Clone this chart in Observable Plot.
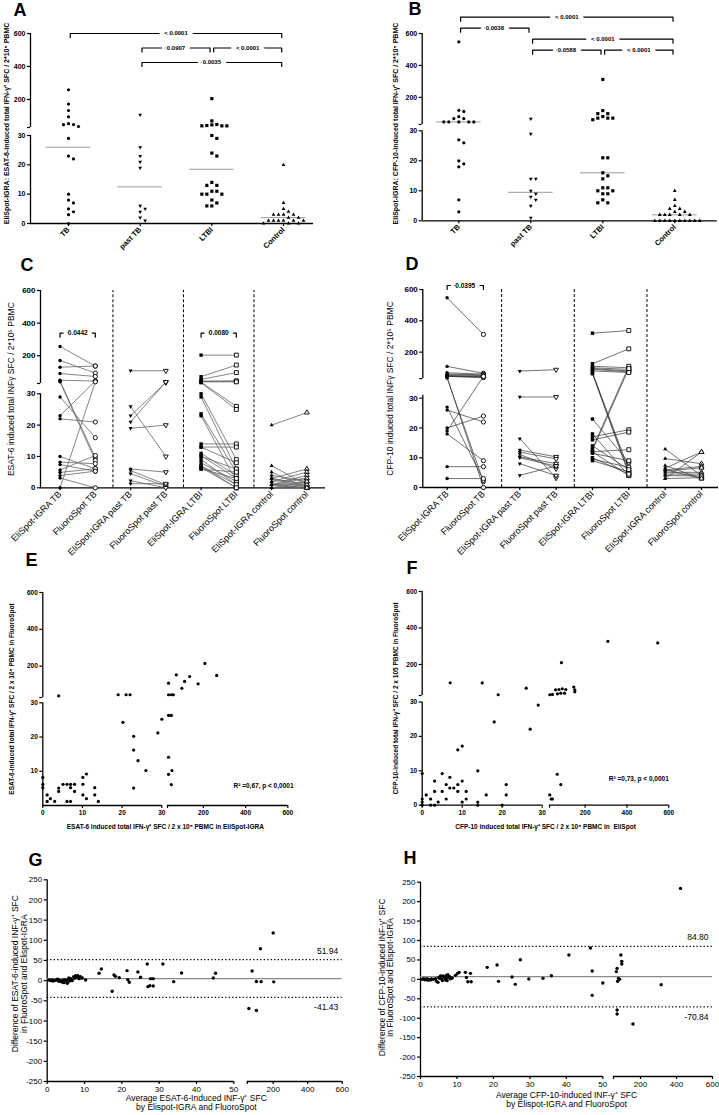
<!DOCTYPE html>
<html>
<head>
<meta charset="utf-8">
<script src="https://cdn.jsdelivr.net/npm/d3@7"></script>
<script src="https://cdn.jsdelivr.net/npm/@observablehq/plot@0.6"></script>
<style>
body { margin: 0; background: #fff; }
#fig { position: relative; width: 719px; height: 1115px; overflow: hidden; background: #fff; }
#fig > div { position: absolute; }
#fig svg { overflow: visible; max-width: none !important; }
#fig g[aria-label$="axis tick"] { stroke-width: 1.2px; }
.ab g[aria-label="x-axis tick label"] { font-size: 7.5px; }
.cd g[aria-label="x-axis tick label"] { font-size: 9px; font-weight: normal; }
</style>
</head>
<body>
<div id="fig"></div>
<script>
// ---------- data ----------
const groupNames = ["TB", "past TB", "LTBI", "Control"];
const pairLabels = ["EliSpot-IGRA TB", "FluoroSpot TB", "EliSpot-IGRA past TB", "FluoroSpot past TB",
  "EliSpot-IGRA LTBI", "FluoroSpot LTBI", "EliSpot-IGRA control", "FluoroSpot control"];

// A: EliSpot-IGRA ESAT-6
const aTB = [259, 172, 133, 95, 53, 48, 47, 36, 29, 23, 22, 10, 8, 7, 5, 4, 3, 0];
const aPastTB = [107, 26, 23, 21, 19, 6, 5, 4, 2, 1];
const aLTBI = [205, 70, 48, 46, 42, 40, 40, 40, 30, 29, 24, 23, 14, 13, 13, 11, 11, 10, 10, 10, 8, 7, 6, 6];
const aControl = [20, 7, 5, 4, 3, 3, 3, 3, 2, 2, 1, 1, 1, 1, 1, 1, 0, 0, 0];
const aBrackets = [[0, 3, "< 0.0001", 0], [1, 2, "0.0907", 1], [2, 3, "< 0.0001", 1], [1, 3, "0.0035", 2]];

// B: EliSpot-IGRA CFP-10
const bTB = [548, 119, 112, 79, 67, 67, 46, 46, 46, 46, 46, 27, 26, 20, 19, 18, 7, 3];
const bPastTB = [65, 29, 14, 14, 10, 9, 8, 7, 5, 1];
const bLTBI = [312, 117, 98, 98, 80, 70, 70, 70, 60, 21, 21, 16, 15, 14, 11, 11, 10, 10, 9, 9, 7, 6, 6];
const bControl = [10, 7, 5, 4, 4, 3, 3, 2, 2, 2, 2, 2, 0, 0, 0, 0, 0, 0, 0, 0, 0, 0];
const bBrackets = [[0, 3, "< 0.0001", 0], [0, 1, "0.0038", 1], [1, 3, "< 0.0001", 2], [1, 2, "0.0588", 3], [2, 3, "< 0.0001", 3]];

// C: ESAT-6 pairs [EliSpot-IGRA, FluoroSpot]
const cTB = [[257, 137], [171, 94], [130, 137], [91, 73], [50, 45], [45, 9.6], [40, 8.7], [29, 16], [23, 45], [22, 21],
  [10, 6.1], [8.2, 7.7], [7.4, 5.3], [5.7, 10.3], [4.9, 6.1], [3.9, 5.3], [3.1, 0], [0, 40]];
const cPastTB = [[108, 108], [26, 10], [23, 36], [21, 40], [19, 20], [6, 5], [5.5, 1], [4.5, 0.5], [2.3, 0], [1.3, 1.3]];
const cLTBI = [[204, 204], [72, 143], [55, 97], [45, 45], [42, 45], [40, 40], [38, 26], [35, 25], [30, 9], [29, 6],
  [23.6, 5], [23, 2], [14, 14], [13, 13], [13, 8], [11, 4], [10.3, 3], [10, 6], [9, 1], [8, 2], [7, 0], [7, 1], [6.5, 0], [6, 3], [6, 5]];
const cControl = [[20, 24], [7, 1], [5, 0], [4, 2], [3, 6], [3, 1], [3, 0], [2, 5], [2, 3], [1, 4], [1, 2], [1, 0],
  [1, 1], [1, 3], [0, 0], [0, 1], [0, 2], [1, 0], [0, 0]];
const cBrackets = [[0, 1, "0.0442", 0], [4, 5, "0.0080", 0]];

// D: CFP-10 pairs [EliSpot-IGRA, FluoroSpot]
const dTB = [[547, 313], [109, 65], [68, 60], [60, 55], [55, 50], [50, 45], [48, 42], [46, 38], [45, 40], [40, 0],
  [35, 2], [27, 2.4], [26, 22], [20, 24], [19, 45], [18, 9], [7, 7], [3, 3]];
const dPastTB = [[79, 88], [30.4, 30.4], [16.4, 3.2], [12.6, 10.3], [11.9, 9.6], [11.1, 6.3], [10.3, 8], [10, 7.2], [8, 4], [4.1, 7.2]];
const dLTBI = [[321, 338], [126, 221], [110, 100], [100, 90], [95, 80], [90, 75], [80, 70], [70, 6], [65, 5], [62, 4.5],
  [23, 8.5], [18, 4], [17, 19.4], [16, 18.6], [13, 110], [12.5, 95], [12, 12.7], [11.5, 9], [9.5, 6.8], [9, 5.3], [14, 6], [12, 4], [10, 4.5]];
const dControl = [[12.9, 4], [9.7, 8], [7.4, 3], [6.5, 11.9], [5.9, 7.1], [5.1, 5.1], [4.5, 4.5], [3, 11.9], [3, 3.3], [5.5, 6.6], [4, 3.9], [6, 3]];
const dBrackets = [[0, 1, "0.0395", 0]];

// E: ESAT-6 EliSpot-IGRA (x) vs FluoroSpot (y)
const ePoints = [[0, 8.2], [0, 6.2], [0, 5.2], [1.1, 3.1], [1.1, 1.2], [1.9, 2], [3, 1.2], [4, 5.1], [4, 4.1], [4, 39],
  [5.1, 6.2], [6.1, 6.2], [6.1, 1.2], [7, 6.2], [7, 5.2], [7, 1.2], [8, 6.2], [8, 4.1],
  [10.1, 8.2], [10.1, 6.2], [10.1, 3.1], [11, 2], [11, 9.2], [13.1, 5.2], [13.1, 3.1], [14, 1.2],
  [19, 45], [21, 45], [22, 45], [20.2, 24.3], [22.9, 20.2], [22.9, 16.2], [24, 13.1], [26, 10.2], [22.9, 5.1], [29, 21.2], [30, 25.2],
  [35, 108], [35, 45], [49, 45], [58, 45], [35, 26.3], [48, 26.3], [35, 14.1], [35, 9.1], [51, 10.2], [48, 6.1],
  [72, 153], [98, 80], [111, 117], [135, 144], [175, 104], [207, 215], [263, 150]];
const eStat = "R² =0,67, p < 0,0001";

// F: CFP-10 EliSpot (x) vs FluoroSpot (y)
const fPoints = [[0, 9.2], [0, 1.8], [0, 0.9], [0, 0], [1, 3], [2.1, 1.8], [2.1, 0], [3.1, 0], [3.1, 7], [3.1, 4], [4, 0.9],
  [5, 9.2], [5, 4], [6, 6], [6, 1.8], [6.9, 8.1], [6.9, 5], [7.9, 5], [8.9, 6], [8.9, 4], [8.9, 16.1], [10, 17.2], [10, 7], [10, 0.9], [11, 4], [11, 1.8],
  [13.9, 10], [13.9, 0.9], [13.9, 0], [16, 3], [20, 0], [21, 6], [21, 3], [18, 24.2], [27, 22.1], [29, 29.1],
  [7, 100], [15, 99], [19, 34], [26, 70],
  [31.5, 34], [44, 36], [59, 61], [68, 39], [75, 63], [84, 43], [91, 67], [102, 43], [108, 63], [146, 76], [151, 61], [151, 50],
  [31.5, 3], [38, 1.8], [44, 1.8], [67, 9], [84, 6],
  [87, 210], [309, 327], [547, 318]];
const fStat = "R² =0,73, p < 0,0001";

// G: Bland-Altman ESAT-6 [average, difference]
const gPoints = [[0.45, 1.7], [0.9, 0], [1.3, 1.7], [1.8, 0], [2.7, 3.3], [3.1, -1.7], [3.6, 0], [4, -3.3], [4.5, -5], [4.9, 1.7],
  [5.4, -6.6], [5.8, 6.6], [6.3, 5], [6.7, 0], [7.1, 10], [7.6, 12.4], [8, 8.3], [8.5, 5], [8.9, 10], [9.4, 6.6], [10.3, 1.7],
  [1.5, -1], [2.3, 1], [3, 3], [3.8, -2], [4.4, 2], [5, 0], [5.6, 2], [6, -1], [6.5, 3], [7.3, 6], [8.2, 12], [9, 7],
  [13.9, 18.2], [14.5, 29], [17.4, -26.4], [17.9, 14], [18.3, 10.7], [19.3, 7.4], [21.4, 24.8], [21.6, 2.5], [22, -4.1],
  [24.3, 21.5], [25, 8.3], [26.8, 41.3], [27, -14.9], [27.5, -12.4], [27.7, 5], [28.4, -13.2], [28.4, 5], [31, 41.3],
  [33.9, -2.5], [36, 19], [44.5, 6.6], [45.1, 18.2],
  [78, 24], [59, -69], [103, -74], [103, -2], [126, 79], [130, -2.5], [200, 118], [203, -3]];
const gLimits = [51.94, -41.43];

// H: Bland-Altman CFP-10 [average, difference]
const hPoints = [[0.5, 0], [0.9, 1.7], [1.4, 0], [1.8, 1.7], [2.3, 0], [2.7, -1.7], [3.5, 0], [4.1, 1.7], [4.4, -5], [4.8, -7.7],
  [5, 5], [5.5, 8.6], [5.8, 1.7], [6.2, 8.6], [6.6, 5], [6.9, -1.7], [7.1, 10.3], [7.5, 12], [7.8, 5], [8.2, 1.7], [8.7, 3.4],
  [9.6, 10.3], [10.2, 15.4], [10.6, 18], [1.2, -1], [2, -2], [3, 1], [5.2, 3], [6, -3], [7, 3], [7.3, -3], [8, 7],
  [12.3, 18], [12.6, 5], [13, -6], [13.7, 15.4], [13.9, -6],
  [18.3, 30.9], [21, 36.9], [21.4, -5.1], [25.1, 6], [26, -12.9], [27.4, 50.6], [29.7, 0.9], [33.6, 2.6], [35.9, 9.4],
  [40.7, 62.6], [46.6, 80.6], [47.1, 21.4], [47.1, -41.2], [50, -9.4],
  [66, 20], [70, 28.3], [70, -79], [70, -89], [73, -5], [78, 2.6], [84, 0], [91, 62.6], [96, 46.3], [96, 39.5],
  [158, -115], [315, -13.7], [422, 234]];
const hLimits = [84.80, -70.84];

// ---------- helpers ----------
const EPS = 1e-6;
const FONT = "'Liberation Sans', Arial, Helvetica, sans-serif";
const fig = document.getElementById("fig");

const triDown = {
  draw(ctx, size) {
    const s3 = Math.sqrt(3), y = -Math.sqrt(size / (s3 * 3));
    ctx.moveTo(0, -2 * y); ctx.lineTo(-s3 * y, y); ctx.lineTo(s3 * y, y); ctx.closePath();
  }
};
const groupSymbols = ["circle", triDown, "square", "triangle"];
const groupR = [1.6, 1.4, 1.8, 1.4];
const openR = [2.1, 1.8, 2.2, 1.8];

function mount(svg, box, cls) {
  const d = document.createElement("div");
  d.className = cls;
  d.style.left = box.l + "px"; d.style.top = box.t + "px";
  d.style.width = box.w + "px"; d.style.height = box.h + "px";
  d.appendChild(svg); fig.appendChild(d);
}
function margins(box, fr) {
  return {marginLeft: fr.l - box.l, marginRight: box.l + box.w - fr.r, marginTop: fr.t - box.t, marginBottom: box.t + box.h - fr.b};
}
function piece(segs, px, off) {
  const domain = [segs[0][0], segs[0][1], segs[1][0] + EPS, segs[1][1]];
  const range = [px[0][0], px[0][1], px[1][0], px[1][1]].map(v => v - off);
  return {domain, range, d3: d3.scaleLinear(domain, range)};
}
function fmt(breaks) { return d => breaks.has(d) ? "" : String(d); }
function segLines(sc) { return [[sc.domain[0], sc.domain[1]], [sc.domain[2], sc.domain[3]]]; }

function dodge(values, gi, yPix, pxStep, unitPx, rowTol) {
  const pts = values.map(v => ({v, py: yPix(v)})).sort((a, b) => a.py - b.py);
  const placed = [];
  for (const p of pts) {
    for (let k = 0; k < 60; k++) {
      const slot = k === 0 ? 0 : (k % 2 ? (k + 1) / 2 : -k / 2);
      if (!placed.some(q => q.slot === slot && Math.abs(q.py - p.py) < rowTol)) { p.slot = slot; placed.push(p); break; }
    }
  }
  return placed.map(p => ({x: gi + p.slot * pxStep / unitPx, y: p.v, g: gi}));
}

function bracketMarks(brs, ySc, topPx, stepPx, inset, fontSize, halo) {
  const lines = [], labels = [];
  brs.forEach(([a, b, txt, tier], k) => {
    const py = topPx + tier * stepPx;
    const y = ySc.invert(py), y2 = ySc.invert(py + 4);
    const x1 = a + inset, x2 = b - inset;
    lines.push({k, x: x1, y: y2}, {k, x: x1, y}, {k, x: x2, y}, {k, x: x2, y: y2});
    labels.push({x: (x1 + x2) / 2, y, txt});
  });
  return [
    Plot.line(lines, {x: "x", y: "y", z: "k", stroke: "#000", strokeWidth: 1.2}),
    Plot.text(labels, {x: "x", y: "y", text: "txt", fontSize, fontWeight: "bold", fill: "#000", stroke: "#fff", strokeWidth: halo})
  ];
}

function letterMark(ch, dx, dy, size) {
  return Plot.text([ch], {text: d => d, frameAnchor: "top-left", textAnchor: "start", lineAnchor: "top", dx, dy,
    fontSize: size, fontWeight: "bold", fill: "#000"});
}
function yLabelMark(txt, dx, dy, size, weight) {
  return Plot.text([txt], {text: d => d, frameAnchor: "left", rotate: -90, dx, dy, fontSize: size, fontWeight: weight,
    textAnchor: "middle", lineAnchor: "middle", fill: "#000"});
}
function xLabelMark(txt, dx, dy, size, weight) {
  return Plot.text([txt], {text: d => d, frameAnchor: "bottom", dx, dy, fontSize: size, fontWeight: weight,
    textAnchor: "middle", lineAnchor: "middle", lineHeight: 1.05, fill: "#000"});
}

// ---------- A / B : grouped scatter ----------
function groupPanel(c) {
  const m = margins(c.box, c.frame);
  const xd = [(c.frame.l - c.p0) / c.step, (c.frame.r - c.p0) / c.step];
  const dots = c.series.flatMap((vals, gi) => dodge(vals, gi, c.y.d3, 5, c.step, 3.8));
  const meds = c.series.map((vals, gi) => ({g: gi, m: d3.median(vals)}));
  const marks = [
    Plot.ruleX(segLines(c.y), {x: () => xd[0], y1: d => d[0], y2: d => d[1], stroke: "#000", strokeWidth: 1.3}),
    Plot.ruleY([0], {x1: () => xd[0], x2: () => xd[1], stroke: "#000", strokeWidth: 1.3}),
    Plot.ruleY(meds, {y: "m", x1: d => d.g - 0.31, x2: d => d.g + 0.31, stroke: "#9a9a9a", strokeWidth: 1}),
    ...groupSymbols.map((s, gi) => Plot.dot(dots.filter(d => d.g === gi),
      {x: "x", y: "y", symbol: s, r: groupR[gi], fill: "#000", stroke: "none"})),
    ...bracketMarks(c.brackets, c.y.d3, c.brTop, c.brStep, 0.025, 6, 10),
    yLabelMark(c.yLabel, c.yl[0], c.yl[1], 7, "bold"),
    letterMark(c.letter, c.lt[0], c.lt[1], 18)
  ];
  const svg = Plot.plot({
    width: c.box.w, height: c.box.h, ...m,
    style: {fontFamily: FONT, fontSize: "7px", fontWeight: "bold", color: "#000", background: "transparent"},
    x: {type: "linear", domain: xd, ticks: [0, 1, 2, 3], tickFormat: i => groupNames[i], tickRotate: -45, tickSize: 3, tickPadding: 2, label: null},
    y: {type: "linear", domain: c.y.domain, range: c.y.range, ticks: c.yTicks, tickFormat: fmt(new Set([c.y.domain[2]])), tickSize: 3, tickPadding: 2, label: null},
    marks
  });
  mount(svg, c.box, "ab");
}

// ---------- C / D : paired ----------
function pairPanel(c) {
  const m = margins(c.box, c.frame);
  const xd = [(c.frame.l - c.p0) / c.step, (c.frame.r - c.p0) / c.step];
  const links = [], filled = [], open = [];
  c.pairs.forEach((arr, gi) => arr.forEach(([e, f]) => {
    links.push({x1: 2 * gi, y1: e, x2: 2 * gi + 1, y2: f});
    filled.push({x: 2 * gi, y: e, g: gi});
    open.push({x: 2 * gi + 1, y: f, g: gi});
  }));
  const marks = [
    Plot.ruleX([1.5, 3.5, 5.5], {y1: () => 0, y2: () => 600, stroke: "#000", strokeWidth: 1, strokeDasharray: "3,2"}),
    Plot.ruleX(segLines(c.y), {x: () => xd[0], y1: d => d[0], y2: d => d[1], stroke: "#000", strokeWidth: 1.3}),
    Plot.ruleY([0], {x1: () => xd[0], x2: () => xd[1], stroke: "#000", strokeWidth: 1.3}),
    Plot.link(links, {x1: "x1", y1: "y1", x2: "x2", y2: "y2", stroke: c.lineStroke, strokeWidth: c.lineWidth}),
    ...groupSymbols.map((s, gi) => Plot.dot(filled.filter(d => d.g === gi),
      {x: "x", y: "y", symbol: s, r: groupR[gi] + 0.1, fill: "#000", stroke: "none"})),
    ...groupSymbols.map((s, gi) => Plot.dot(open.filter(d => d.g === gi),
      {x: "x", y: "y", symbol: s, r: openR[gi], fill: "#fff", stroke: "#000", strokeWidth: 0.9})),
    ...bracketMarks(c.brackets, c.y.d3, c.brTop, 0, 0, 6.5, 9),
    yLabelMark(c.yLabel, c.yl[0], c.yl[1], 8.5, "normal"),
    letterMark(c.letter, c.lt[0], c.lt[1], 18)
  ];
  const svg = Plot.plot({
    width: c.box.w, height: c.box.h, ...m,
    style: {fontFamily: FONT, fontSize: "8px", fontWeight: "bold", color: "#000", background: "transparent"},
    x: {type: "linear", domain: xd, ticks: d3.range(8), tickFormat: i => pairLabels[i], tickRotate: -45, tickSize: 3, tickPadding: 2, label: null},
    y: {type: "linear", domain: c.y.domain, range: c.y.range, ticks: c.yTicks, tickFormat: fmt(new Set([c.y.domain[2]])), tickSize: 3, tickPadding: 2, label: null},
    marks
  });
  mount(svg, c.box, "cd");
}

// ---------- E / F : broken scatter ----------
function scatterPanel(c) {
  const m = margins(c.box, c.frame);
  const marks = [
    Plot.ruleX(segLines(c.y), {x: () => 0, y1: d => d[0], y2: d => d[1], stroke: "#000", strokeWidth: 1.3}),
    Plot.ruleY(segLines(c.x), {y: () => 0, x1: d => d[0], x2: d => d[1], stroke: "#000", strokeWidth: 1.3}),
    Plot.dot(c.pts, {x: d => d[0], y: d => d[1], r: 1.6, fill: "#000", stroke: "none"}),
    Plot.text([c.stat], {text: d => d, frameAnchor: "bottom-right", textAnchor: "end", dx: c.st[0], dy: c.st[1], fontSize: 6.5, fontWeight: "bold", fill: "#000"}),
    yLabelMark(c.yLabel, c.yl[0], c.yl[1], 6.5, "bold"),
    xLabelMark(c.xLabel, c.xl[0], c.xl[1], 6.5, "bold"),
    letterMark(c.letter, c.lt[0], c.lt[1], 18)
  ];
  const svg = Plot.plot({
    width: c.box.w, height: c.box.h, ...m,
    style: {fontFamily: FONT, fontSize: "6.5px", fontWeight: "bold", color: "#000", background: "transparent"},
    x: {type: "linear", domain: c.x.domain, range: c.x.range, ticks: [0, 10, 20, 30, c.x.domain[2], 200, 400, 600], tickFormat: fmt(new Set([c.x.domain[2]])), tickSize: 3, tickPadding: 2, label: null},
    y: {type: "linear", domain: c.y.domain, range: c.y.range, ticks: c.yTicks, tickFormat: fmt(new Set([c.y.domain[2]])), tickSize: 3, tickPadding: 2, label: null},
    marks
  });
  mount(svg, c.box, "ef");
}

// ---------- G / H : Bland-Altman ----------
function baPanel(c) {
  const m = margins(c.box, c.frame);
  const bias = (c.limits[0] + c.limits[1]) / 2;
  const marks = [
    Plot.ruleX([0], {y1: () => -250, y2: () => 250, stroke: "#000", strokeWidth: 1.3}),
    Plot.ruleY(segLines(c.x), {y: () => -250, x1: d => d[0], x2: d => d[1], stroke: "#000", strokeWidth: 1.3}),
    Plot.ruleY([bias], {x1: () => 0, x2: () => 600, stroke: "#8a8a8a", strokeWidth: 1.2}),
    Plot.ruleY(c.limits, {x1: () => 0, x2: () => 600, stroke: "#000", strokeWidth: 1.2, strokeDasharray: "1.3,2.2"}),
    Plot.dot(c.pts, {x: d => d[0], y: d => d[1], r: 1.7, fill: "#000", stroke: "none"}),
    Plot.text([c.limits[0]], {y: d => d, text: d => d.toFixed(2), frameAnchor: "right", textAnchor: "end", dx: c.lim[0], dy: c.lim[1], fontSize: 8.5, fill: "#000"}),
    Plot.text([c.limits[1]], {y: d => d, text: d => d.toFixed(2), frameAnchor: "right", textAnchor: "end", dx: c.lim[0], dy: c.lim[2], fontSize: 8.5, fill: "#000"}),
    yLabelMark(c.yLabel, c.yl[0], c.yl[1], 8.5, "normal"),
    xLabelMark(c.xLabel, c.xl[0], c.xl[1], 8.5, "normal"),
    letterMark(c.letter, c.lt[0], c.lt[1], 18)
  ];
  const svg = Plot.plot({
    width: c.box.w, height: c.box.h, ...m,
    style: {fontFamily: FONT, fontSize: "8px", fontWeight: "normal", color: "#000", background: "transparent"},
    x: {type: "linear", domain: c.x.domain, range: c.x.range, ticks: [0, 10, 20, 30, 40, 50, c.x.domain[2], 200, 400, 600], tickFormat: fmt(new Set([c.x.domain[2]])), tickSize: 3, tickPadding: 2, label: null},
    y: {type: "linear", domain: [-250, 250], range: c.yRange, ticks: d3.range(-250, 251, 50), tickFormat: d => String(d), tickSize: 3, tickPadding: 2, label: null},
    marks
  });
  mount(svg, c.box, "gh");
}

// ---------- build ----------
groupPanel({
  box: {l: 0, t: 0, w: 360, h: 255}, frame: {l: 30, r: 313, t: 33, b: 223},
  y: piece([[0, 30], [30, 600]], [[223, 135], [127, 33]], 0),
  yTicks: [0, 10, 20, 30, 30 + EPS, 200, 400, 600],
  p0: 68, step: 71.67, series: [aTB, aPastTB, aLTBI, aControl],
  brackets: aBrackets, brTop: 33, brStep: 14.5,
  yLabel: "EliSpot-IGRA: ESAT-6-induced total IFN-γ⁺ SFC / 2*10⁵ PBMC", yl: [-24, -5],
  letter: "A", lt: [-17, -30]
});
groupPanel({
  box: {l: 360, t: 0, w: 359, h: 255}, frame: {l: 421.7, r: 716.7, t: 33, b: 220.3},
  y: piece([[0, 30], [30, 600]], [[220.3, 130.3], [124, 33]], 0),
  yTicks: [0, 10, 20, 30, 30 + EPS, 200, 400, 600],
  p0: 458.3, step: 72, series: [bTB, bPastTB, bLTBI, bControl],
  brackets: bBrackets, brTop: 16.7, brStep: 11,
  yLabel: "EliSpot-IGRA: CFP-10-induced total IFN-γ⁺ SFC / 2*10⁵ PBMC", yl: [-26.7, -3.6],
  letter: "B", lt: [-13.7, -31]
});
pairPanel({
  box: {l: 0, t: 255, w: 360, h: 296}, frame: {l: 40, r: 325, t: 290, b: 487.3},
  y: piece([[0, 30], [30, 600]], [[487.3, 393.3], [383, 290]], 255),
  yTicks: [0, 10, 20, 30, 30 + EPS, 200, 400, 600],
  p0: 59.55, step: 35.26, pairs: [cTB, cPastTB, cLTBI, cControl], lineStroke: "#666", lineWidth: 0.8,
  brackets: cBrackets, brTop: 77.7,
  yLabel: "ESAT-6 induced total INFγ SFC / 2*10⁵ PBMC", yl: [-29, 0],
  letter: "C", lt: [-20, -32]
});
pairPanel({
  box: {l: 360, t: 255, w: 359, h: 296}, frame: {l: 422.3, r: 718, t: 289, b: 487},
  y: piece([[0, 31], [31, 600]], [[487, 394.7], [378.1, 289]], 255),
  yTicks: [0, 10, 20, 30, 31 + EPS, 200, 400, 600],
  p0: 446.6, step: 36.34, pairs: [dTB, dPastTB, dLTBI, dControl], lineStroke: "#333", lineWidth: 0.7,
  brackets: dBrackets, brTop: 30,
  yLabel: "CFP-10 induced total INFγ SFC / 2*10⁵ PBMC", yl: [-32.3, 0],
  letter: "D", lt: [-17.3, -32]
});
scatterPanel({
  box: {l: 0, t: 551, w: 360, h: 284}, frame: {l: 42.3, r: 287.3, t: 592, b: 805},
  x: piece([[0, 30], [30, 600]], [[42.3, 161.3], [167, 287.3]], 0),
  y: piece([[0, 30], [30, 600]], [[805, 702.3], [697, 592]], 551),
  yTicks: [10, 20, 30, 30 + EPS, 200, 400, 600],
  pts: ePoints, stat: eStat, st: [5.7, -18],
  yLabel: "ESAT-6-induced total IFN-γ⁺ SFC / 2 x 10⁵ PBMC in FluoroSpot", yl: [-30.6, 0],
  xLabel: "ESAT-6 induced total IFN-γ⁺ SFC / 2 x 10⁵ PBMC in EliSpot-IGRA", xl: [0, 21],
  letter: "E", lt: [-17.3, -39]
});
scatterPanel({
  box: {l: 360, t: 551, w: 359, h: 284}, frame: {l: 421.7, r: 668.3, t: 591, b: 804.7},
  x: piece([[0, 30], [30, 600]], [[421.7, 541.7], [549, 668.3]], 360),
  y: piece([[0, 30], [30, 600]], [[804.7, 701.5], [695, 591]], 551),
  yTicks: [0, 10, 20, 30, 30 + EPS, 200, 400, 600],
  pts: fPoints, stat: fStat, st: [0, -24.7],
  yLabel: "CFP-10-induced total IFN-γ⁺ SFC / 2 x 105 PBMC in FluoroSpot", yl: [-26.7, 0],
  xLabel: "CFP-10 induced total IFN-γ⁺ SFC / 2 x 10⁵ PBMC in  EliSpot", xl: [0, 21.3],
  letter: "F", lt: [-15.7, -30]
});
baPanel({
  box: {l: 0, t: 835, w: 360, h: 280}, frame: {l: 46.7, r: 341.7, t: 879.3, b: 1081},
  x: piece([[0, 50], [50, 600]], [[46.7, 233.3], [246.8, 341.7]], 0),
  yRange: [246, 44.3],
  pts: gPoints, limits: gLimits, lim: [-4, -8, 10],
  yLabel: "Difference of ESAT-6-induced INF-γ⁺ SFC\nin FluoroSpot and Elispot-IGRA", yl: [-27.5, -7],
  xLabel: "Average ESAT-6-Induced INF-γ⁺ SFC\nby Elispot-IGRA and FluoroSpot", xl: [1.6, 21.5],
  letter: "G", lt: [-18.7, -26.3]
});
baPanel({
  box: {l: 360, t: 835, w: 359, h: 280}, frame: {l: 420, r: 712, t: 881.7, b: 1076},
  x: piece([[0, 50], [50, 600]], [[420, 602.3], [613, 712]], 360),
  yRange: [241, 46.7],
  pts: hPoints, limits: hLimits, lim: [-4, -9, 10],
  yLabel: "Difference of CFP-10-induced INF-γ⁺ SFC\nin FluoroSpot and Elispot-IGRA", yl: [-34, -2],
  xLabel: "Average CFP-10-induced INF-γ⁺ SFC\nby Elispot-IGRA and FluoroSpot", xl: [0, 23],
  letter: "H", lt: [-17, -30.7]
});
</script>
</body>
</html>
